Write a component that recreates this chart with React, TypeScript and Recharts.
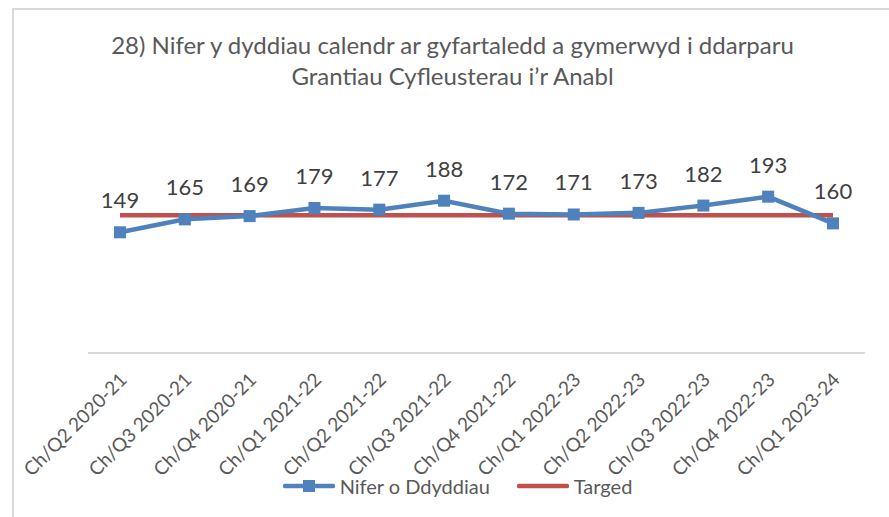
import { LineChart, Line, XAxis, YAxis, LabelList } from "recharts";

const quarters = [
  "Ch/Q2 2020-21",
  "Ch/Q3 2020-21",
  "Ch/Q4 2020-21",
  "Ch/Q1 2021-22",
  "Ch/Q2 2021-22",
  "Ch/Q3 2021-22",
  "Ch/Q4 2021-22",
  "Ch/Q1 2022-23",
  "Ch/Q2 2022-23",
  "Ch/Q3 2022-23",
  "Ch/Q4 2022-23",
  "Ch/Q1 2023-24",
];
const days = [149, 165, 169, 179, 177, 188, 172, 171, 173, 182, 193, 160];
const target = [170, 170, 170, 170, 170, 170, 170, 170, 170, 170, 170, 170];

const data = quarters.map((q, i) => ({ q, days: days[i], target: target[i] }));

const FONT = "Lato, 'Open Sans', sans-serif";
const BLUE = "#4f81bd";
const RED = "#c0504d";

const QuarterTick = ({ x, y, payload }: any) => (
  <text
    x={x + 8}
    y={y + 20}
    transform={`rotate(-45 ${x + 8} ${y + 20})`}
    textAnchor="end"
    fill="#595959"
    fontSize={19}
    fontFamily={FONT}
  >
    {payload.value}
  </text>
);

const DayLabel = ({ x, y, value }: any) => (
  <text
    x={x}
    y={y - 24}
    textAnchor="middle"
    fill="#404040"
    fontSize={22}
    fontFamily={FONT}
  >
    {value}
  </text>
);

export default function App() {
  return (
    <div style={{ position: "relative", width: 889, height: 517, background: "#fff" }}>
      <style>{`body{margin:0}`}</style>
      <div
        style={{
          position: "absolute",
          left: 12,
          top: 8,
          right: 0,
          bottom: 0,
          borderLeft: "2px solid #d9d9d9",
          borderTop: "2px solid #d9d9d9",
        }}
      />
      <div
        style={{
          position: "absolute",
          top: 29,
          left: 14,
          width: 877,
          textAlign: "center",
          fontFamily: FONT,
          fontSize: 24,
          lineHeight: "31px",
          color: "#595959",
        }}
      >
        28) Nifer y dyddiau calendr ar gyfartaledd a gymerwyd i ddarparu
        <br />
        Grantiau Cyfleusterau i’r Anabl
      </div>
      <div style={{ position: "absolute", left: 0, top: 0 }}>
        <LineChart
          width={889}
          height={517}
          data={data}
          margin={{ top: 110, right: 24, bottom: 0, left: 88 }}
        >
          <XAxis
            dataKey="q"
            interval={0}
            height={164}
            padding={{ left: 32, right: 32 }}
            axisLine={{ stroke: "#d9d9d9", strokeWidth: 2 }}
            tickLine={false}
            tick={<QuarterTick />}
          />
          <YAxis hide domain={[0, 300]} />
          <Line
            dataKey="target"
            stroke={RED}
            strokeWidth={4.5}
            dot={false}
            isAnimationActive={false}
          />
          <Line
            dataKey="days"
            stroke={BLUE}
            strokeWidth={4.5}
            dot={(p: any) => (
              <rect
                key={p.index}
                x={p.cx - 6}
                y={p.cy - 6}
                width={12}
                height={12}
                fill={BLUE}
              />
            )}
            activeDot={false}
            isAnimationActive={false}
          >
            <LabelList dataKey="days" content={<DayLabel />} />
          </Line>
        </LineChart>
      </div>
      <div
        style={{
          position: "absolute",
          top: 474,
          left: 13,
          width: 889,
          display: "flex",
          justifyContent: "center",
          alignItems: "center",
          gap: 27,
          fontFamily: FONT,
          fontSize: 20,
          color: "#595959",
        }}
      >
        <div style={{ display: "flex", alignItems: "center", gap: 5 }}>
          <svg width={52} height={14}>
            <line x1={2} y1={7} x2={50} y2={7} stroke={BLUE} strokeWidth={4.5} strokeLinecap="round" />
            <rect x={20} y={1} width={12} height={12} fill={BLUE} />
          </svg>
          Nifer o Ddyddiau
        </div>
        <div style={{ display: "flex", alignItems: "center", gap: 5 }}>
          <svg width={52} height={14}>
            <line x1={2} y1={7} x2={50} y2={7} stroke={RED} strokeWidth={4.5} strokeLinecap="round" />
          </svg>
          Targed
        </div>
      </div>
    </div>
  );
}
